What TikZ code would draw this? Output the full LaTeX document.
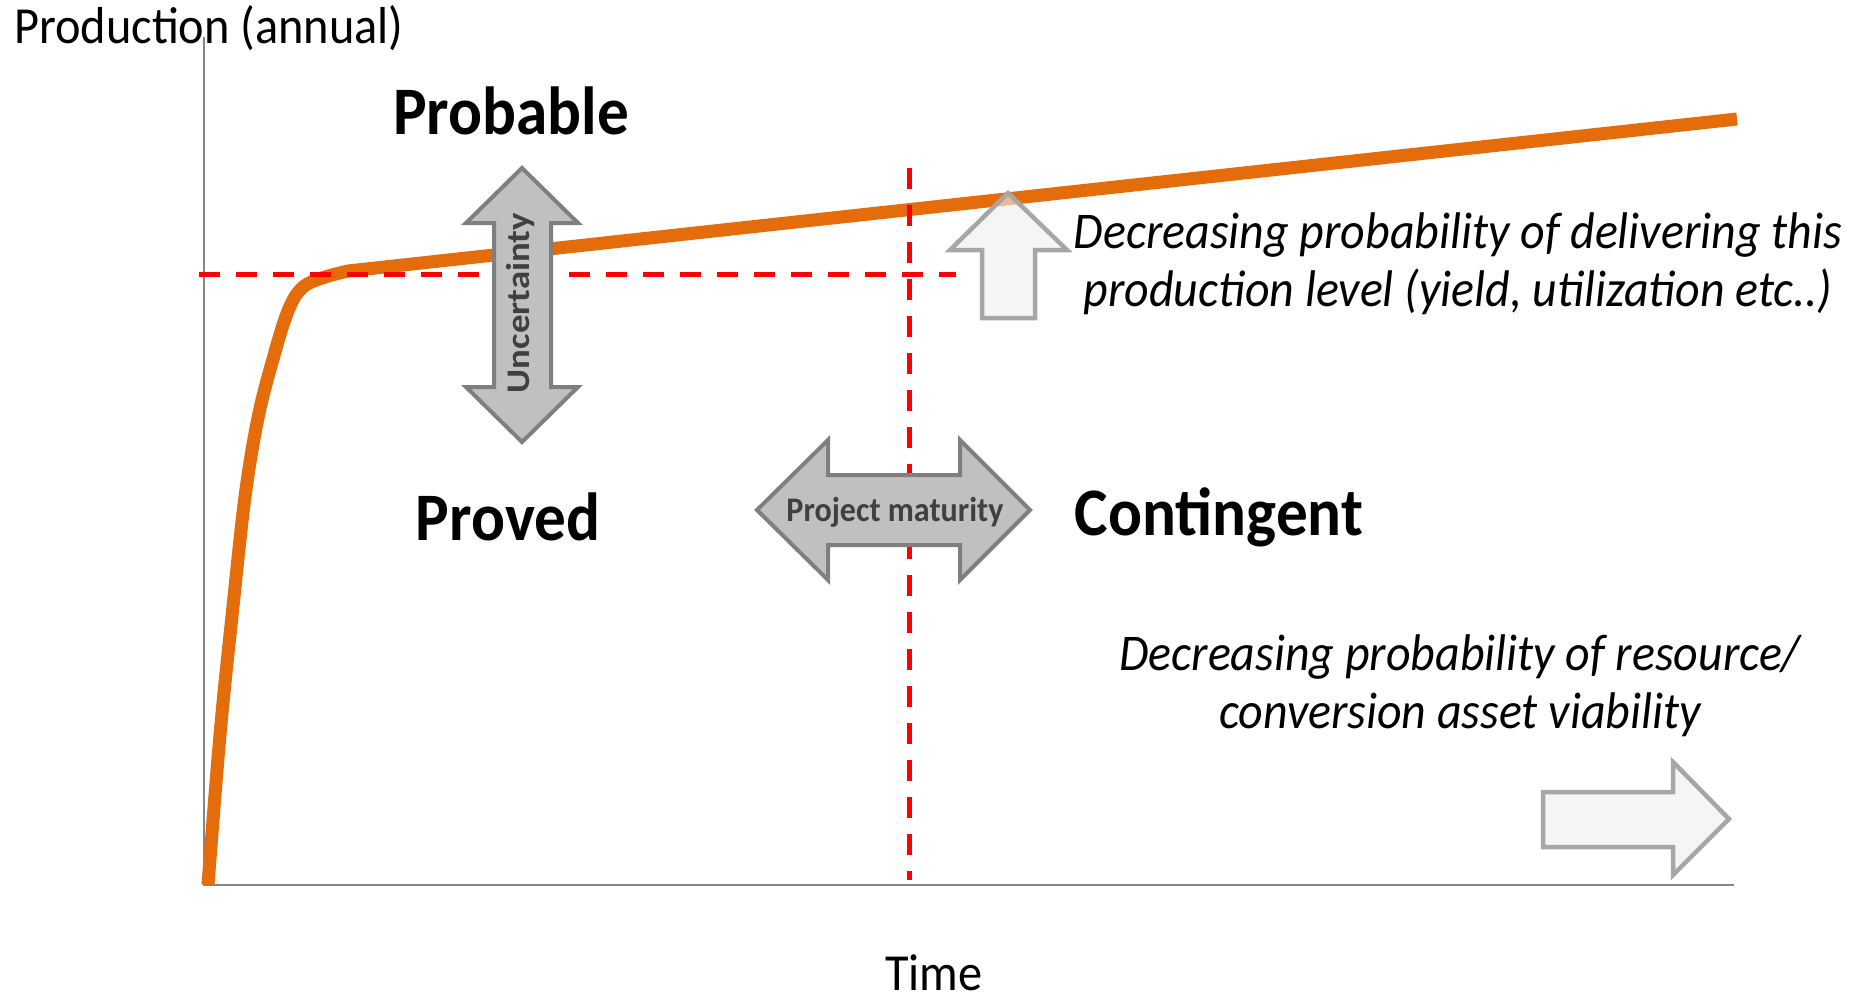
\documentclass[tikz,border=0pt]{standalone}
\usepackage{fontspec}
\usepackage{graphicx}
\setmainfont{Carlito}[FakeStretch=0.93]
\definecolor{orangeC}{HTML}{E46C0A}
\definecolor{redC}{HTML}{FF0000}
\definecolor{axisgray}{HTML}{868686}
\definecolor{arrowfill}{HTML}{C0C0C0}
\definecolor{arrowdraw}{HTML}{7F7F7F}
\definecolor{arrowtext}{HTML}{404040}
\definecolor{lightfill}{HTML}{EFEFEF}
\definecolor{lightdraw}{HTML}{A6A6A6}
\begin{document}
\begin{tikzpicture}[x=1pt,y=-1pt,
  axis/.style={draw=axisgray, line width=2.2pt},
  curve/.style={draw=orangeC, line width=13pt, line join=round},
  reddash/.style={draw=redC, line width=5pt, dash pattern=on 21pt off 16pt},
  bigarrow/.style={fill=arrowfill, draw=arrowdraw, line width=4pt, line join=miter},
  lightarrow/.style={fill=lightfill, fill opacity=0.6, draw=lightdraw, draw opacity=1, line width=4.5pt, line join=miter},
  lbl/.style={font=\fontsize{52pt}{57.5pt}\selectfont, inner sep=0pt},
  big/.style={font=\fontsize{68pt}{80pt}\selectfont\bfseries, inner sep=0pt},
  note/.style={font=\fontsize{51.5pt}{57.5pt}\selectfont\itshape, align=center, inner sep=0pt},
  arrowlbl/.style={text=arrowtext, inner sep=0pt},
  ]
\useasboundingbox (0,0) rectangle (1860,999);

% axes
\coordinate (ytop) at (204,37);
\coordinate (origin) at (204,885);
\coordinate (xend) at (1734,885);
\draw[axis] (ytop) -- (origin) -- (xend);

% production curve
\coordinate (plateau) at (348,271);
\coordinate (lineend) at (1737,119);
\draw[curve] plot[smooth, tension=0.6] coordinates {(208,885) (220,735) (232,616) (245,497) (258,418) (273,359) (288,311) (302,288) (322,278) (348,271)} -- (lineend);

% dashed red lines
\coordinate (hd0) at (199,274);
\coordinate (hd1) at (956,274);
\coordinate (vd0) at (909,168);
\coordinate (vd1) at (909,880);
\draw[reddash] (hd0) -- (hd1);
\draw[reddash] (vd0) -- (vd1);

% uncertainty double arrow
\draw[bigarrow] (522,168) -- (578,223) -- (551,223) -- (551,387) -- (578,387) -- (522,442)
  -- (466,387) -- (494,387) -- (494,223) -- (466,223) -- cycle;
\node[arrowlbl, rotate=90, anchor=base, font=\fontsize{33pt}{38pt}\selectfont\bfseries] (unc) at (529,303) {\scalebox{1.2}[1]{Uncertainty}};

% project maturity double arrow
\draw[bigarrow] (757,510) -- (828,440) -- (828,475) -- (960,475) -- (960,440) -- (1030,510)
  -- (960,580) -- (960,545) -- (828,545) -- (828,580) -- cycle;
\node[arrowlbl, anchor=base, font=\fontsize{34.5pt}{40pt}\selectfont\bfseries] (pm) at (895,521) {Project maturity};

% light arrows
\draw[lightarrow] (1008,193) -- (1067,250) -- (1035,250) -- (1035,318) -- (982,318) -- (982,250) -- (950,250) -- cycle;
\draw[lightarrow] (1543,792) -- (1673,792) -- (1673,762) -- (1729,819) -- (1673,875) -- (1673,847) -- (1543,847) -- cycle;

% labels
\node[lbl, anchor=base west] (ylab) at (14,43) {Production (annual)};
\node[lbl, anchor=base] (xlab) at (934,990) {Time};
\node[big, anchor=base] (probable) at (511,134) {Probable};
\node[big, anchor=base] (proved) at (508,540) {Proved};
\node[big, anchor=base] (contingent) at (1219,535) {Contingent};
\node[note, anchor=base] (note1) at (1458,306) {Decreasing probability of delivering this\\production level (yield, utilization etc..)};
\node[note, anchor=base] (note2) at (1460,728) {Decreasing probability of resource/\\conversion asset viability};
\end{tikzpicture}
\end{document}
